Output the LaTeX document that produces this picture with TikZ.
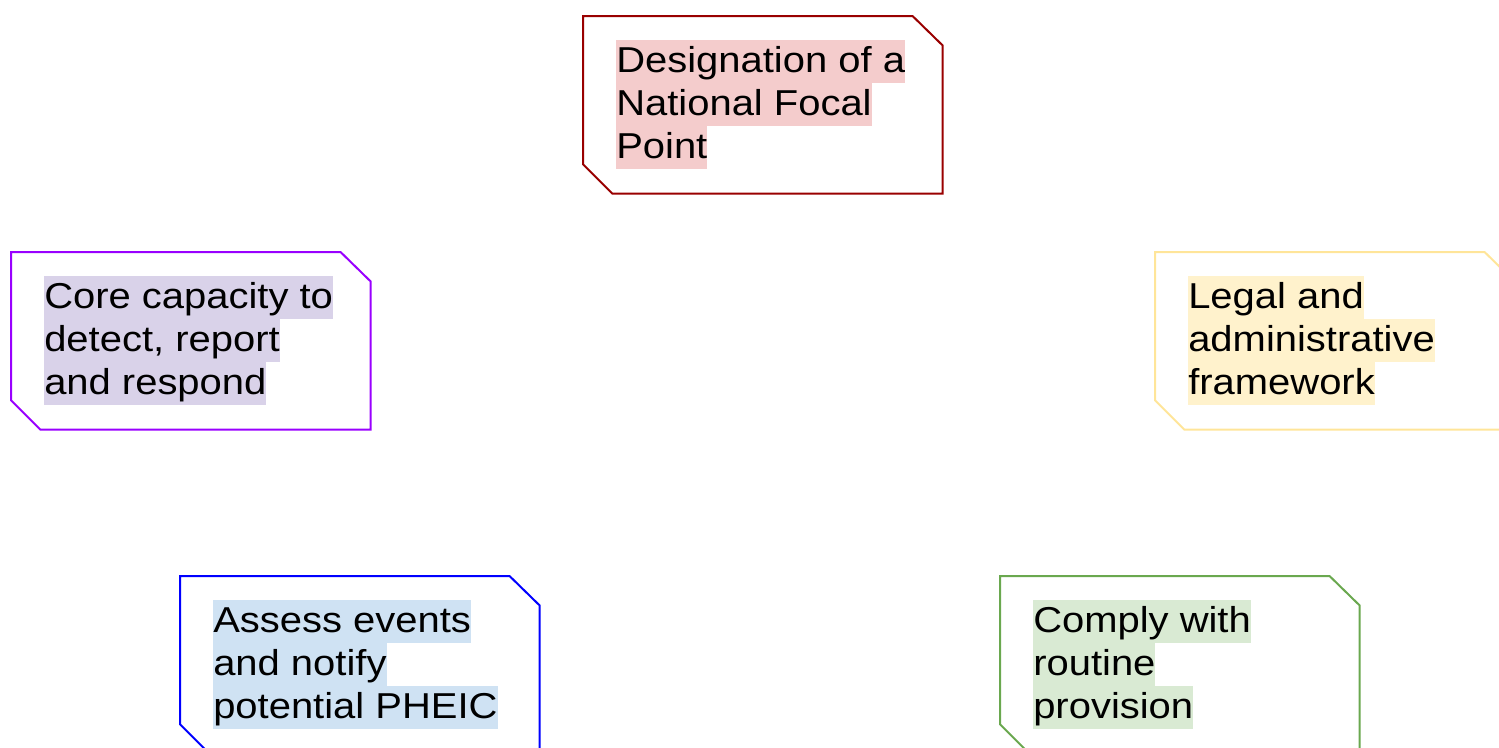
\documentclass[tikz,border=0pt]{standalone}
\usepackage{fontspec}
\setmainfont{Liberation Sans}
\newfontfamily\boxfont[FakeStretch=1.11]{Liberation Sans}
\definecolor{redline}{HTML}{990000}
\definecolor{redfill}{HTML}{F4CCCC}
\definecolor{purpleline}{HTML}{9900FF}
\definecolor{purplefill}{HTML}{D9D2E9}
\definecolor{yellowline}{HTML}{FFE599}
\definecolor{yellowfill}{HTML}{FFF2CC}
\definecolor{blueline}{HTML}{0000FF}
\definecolor{bluefill}{HTML}{CFE2F3}
\definecolor{greenline}{HTML}{6AA84F}
\definecolor{greenfill}{HTML}{D9EAD3}
\tikzset{
  boxshape/.style={rectangle, inner sep=0, minimum width=269.25pt, minimum height=132.75pt, anchor=north west},
  boxline/.style={line width=1.5pt, line join=miter},
  hl/.style={anchor=north west, inner sep=0, text height=24.5pt, text depth=7.75pt,
    font=\boxfont\fontsize{27pt}{32.25pt}\selectfont},
}
\newcommand\chambox[8]{%
  \node[boxshape] (#1) at (#2,#3) {};
  \draw[boxline, draw=#4] (#1.north west) -- ([xshift=-22.5pt]#1.north east)
    -- ([yshift=-22pt]#1.north east) -- (#1.south east)
    -- ([xshift=22pt]#1.south west) -- ([yshift=22pt]#1.south west) -- cycle;
  \node[hl, fill=#5] (#1-1) at ([xshift=24.75pt,yshift=-18pt]#1.north west) {#6};
  \node[hl, fill=#5] (#1-2) at ([xshift=24.75pt,yshift=-50.25pt]#1.north west) {#7};
  \node[hl, fill=#5] (#1-3) at ([xshift=24.75pt,yshift=-82.5pt]#1.north west) {#8};
}
\begin{document}
\begin{tikzpicture}[x=0.75pt, y=-0.75pt]
  \useasboundingbox (0,0) rectangle (1499,747);
  \clip (0,0) rectangle (1499,747);
  \chambox{nfp}{583}{16}{redline}{redfill}{Designation of a}{National Focal}{Point}
  \chambox{core}{11}{252}{purpleline}{purplefill}{Core capacity to}{detect, report}{and respond}
  \chambox{legal}{1155}{252}{yellowline}{yellowfill}{Legal and}{administrative}{framework}
  \chambox{assess}{180}{576}{blueline}{bluefill}{Assess events}{and notify}{potential PHEIC}
  \chambox{comply}{1000}{576}{greenline}{greenfill}{Comply with}{routine}{provision}
\end{tikzpicture}
\end{document}
